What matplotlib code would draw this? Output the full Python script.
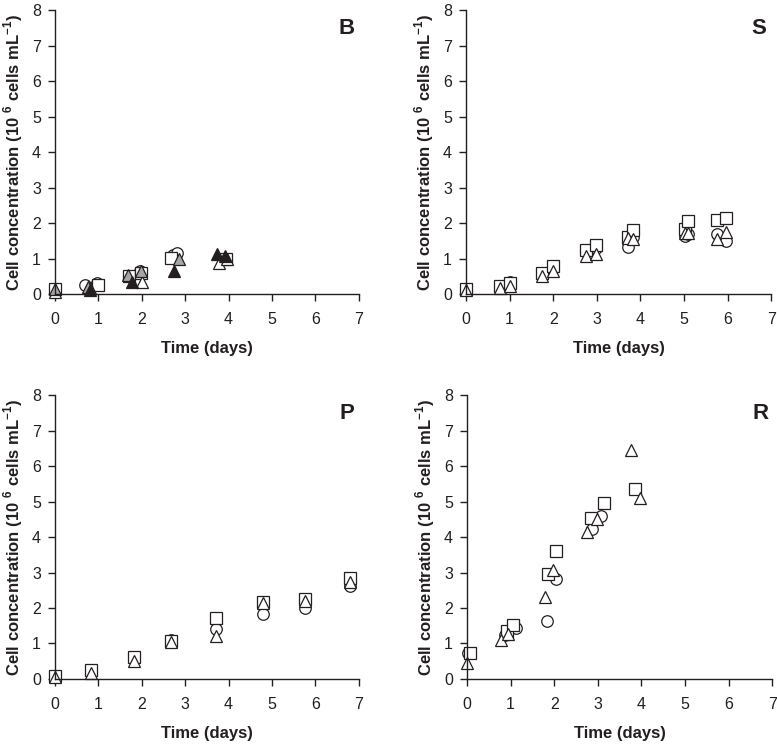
import matplotlib
matplotlib.use("Agg")
import matplotlib.pyplot as plt

plt.rcParams['font.family'] = ['Liberation Sans', 'DejaVu Sans']
plt.rcParams['mathtext.fontset'] = 'custom'
plt.rcParams['mathtext.rm'] = 'Liberation Sans'
plt.rcParams['mathtext.bf'] = 'Liberation Sans:bold'

# Panel B (five cultures)
b_circ_x = [0, 0.68, 0.97, 1.95, 2.72, 2.8]
b_circ_y = [0.1, 0.26, 0.3, 0.66, 1.1, 1.15]
b_sq_x = [0, 0.98, 1.7, 1.98, 2.68, 3.95]
b_sq_y = [0.15, 0.25, 0.5, 0.58, 1.02, 1.0]
b_tri_x = [0, 0.8, 2.0, 3.78, 3.97]
b_tri_y = [0.05, 0.18, 0.35, 0.88, 0.98]
b_gtri_x = [0, 0.75, 1.68, 1.97, 2.85]
b_gtri_y = [0.15, 0.2, 0.55, 0.66, 0.98]
b_ktri_x = [0.8, 1.78, 2.75, 3.73, 3.92]
b_ktri_y = [0.1, 0.35, 0.65, 1.12, 1.07]

# Panel S
s_x = [0, 0.78, 1.0, 1.75, 2.0, 2.75, 2.97, 3.72, 3.82, 5.02, 5.1, 5.75, 5.95]
s_sq = [0.15, 0.24, 0.3, 0.6, 0.78, 1.25, 1.38, 1.6, 1.8, 1.82, 2.05, 2.1, 2.13]
s_circ = [0.12, 0.22, 0.34, 0.58, 0.72, 1.22, 1.3, 1.32, 1.6, 1.63, 1.7, 1.68, 1.5]
s_tri = [0.1, 0.18, 0.22, 0.52, 0.66, 1.08, 1.12, 1.58, 1.55, 1.72, 1.72, 1.55, 1.75]

# Panel P
p_x = [0, 0.83, 1.83, 2.67, 3.72, 4.8, 5.77, 6.8]
p_sq = [0.08, 0.24, 0.62, 1.08, 1.73, 2.16, 2.25, 2.84]
p_circ = [0.06, 0.22, 0.58, 1.1, 1.4, 1.82, 2.0, 2.62]
p_tri = [0.05, 0.18, 0.5, 1.03, 1.2, 2.15, 2.2, 2.72]

# Panel R
r_sq_x = [0.06, 0.92, 1.05, 1.85, 2.05, 2.85, 3.14, 3.86]
r_sq_y = [0.74, 1.36, 1.52, 2.95, 3.6, 4.55, 4.97, 5.35]
r_circ_x = [0.03, 0.88, 1.13, 1.84, 2.05, 2.87, 3.08]
r_circ_y = [0.72, 1.24, 1.43, 1.64, 2.81, 4.22, 4.6]
r_tri_x = [0, 0.77, 0.95, 1.78, 1.97, 2.75, 2.97, 3.75, 3.96]
r_tri_y = [0.46, 1.1, 1.28, 2.32, 3.07, 4.15, 4.5, 6.45, 5.09]

INK = '#231f20'
open_sq = dict(marker='s', ms=8.3, mfc='white', mec=INK, mew=0.9, ls='none')
open_ci = dict(marker='o', ms=8.3, mfc='white', mec=INK, mew=0.9, ls='none')
open_tr = dict(marker='^', ms=9.3, mfc='white', mec=INK, mew=0.9, ls='none')
gray_tr = dict(marker='^', ms=9.3, mfc='#a6a6a6', mec=INK, mew=0.9, ls='none')
black_tr = dict(marker='^', ms=9.3, mfc=INK, mec=INK, mew=0.9, ls='none')

fig = plt.figure(figsize=(7.77, 7.47), dpi=100)
axB = fig.add_axes([0.0708, 0.6064, 0.391, 0.380])
axS = fig.add_axes([0.5997, 0.6064, 0.393, 0.380])
axP = fig.add_axes([0.0708, 0.0911, 0.391, 0.380])
axR = fig.add_axes([0.6010, 0.0911, 0.393, 0.380])

axB.plot(b_circ_x, b_circ_y, **open_ci)
axB.plot(b_sq_x, b_sq_y, **open_sq)
axB.plot(b_tri_x, b_tri_y, **open_tr)
axB.plot(b_gtri_x, b_gtri_y, **gray_tr)
axB.plot(b_ktri_x, b_ktri_y, **black_tr)

axS.plot(s_x, s_circ, **open_ci)
axS.plot(s_x, s_sq, **open_sq)
axS.plot(s_x, s_tri, **open_tr)

axP.plot(p_x, p_circ, **open_ci)
axP.plot(p_x, p_sq, **open_sq)
axP.plot(p_x, p_tri, **open_tr)

axR.plot(r_circ_x, r_circ_y, **open_ci)
axR.plot(r_sq_x, r_sq_y, **open_sq)
axR.plot(r_tri_x, r_tri_y, **open_tr)

ylab = r"Cell concentration (10 $^{\mathbf{6}}$ cells mL$^{\mathbf{-1}}$)"
for ax, letter in [(axB, 'B'), (axS, 'S'), (axP, 'P'), (axR, 'R')]:
    ax.set_xlim(0, 7)
    ax.set_ylim(0, 8)
    ax.set_xticks(range(8))
    ax.set_yticks(range(9))
    for side in ['top', 'right']:
        ax.spines[side].set_visible(False)
    for side in ['left', 'bottom']:
        ax.spines[side].set_color(INK)
        ax.spines[side].set_linewidth(1.0)
    ax.tick_params(direction='out', length=5, width=1.0, color=INK,
                   labelsize=11.5, labelcolor=INK)
    ax.tick_params(axis='x', pad=8)
    ax.tick_params(axis='y', pad=5)
    ax.set_xlabel("Time (days)", fontsize=12, fontweight='bold', color=INK, labelpad=10)
    ax.set_ylabel(ylab, fontsize=12, fontweight='bold', color=INK, labelpad=5)
    ax.text(0.96, 0.935, letter, transform=ax.transAxes, ha='center', va='center',
            fontsize=16, fontweight='bold', color=INK)
    for ln in ax.lines:
        ln.set_clip_on(False)

fig.savefig("out.png", dpi=100)
